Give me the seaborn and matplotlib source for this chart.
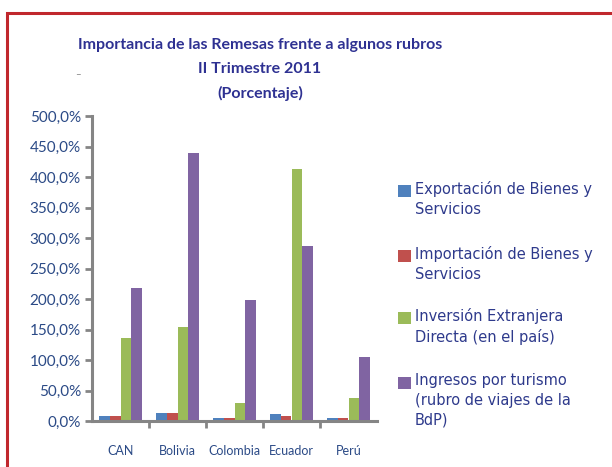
import matplotlib
matplotlib.use('Agg')
import matplotlib.pyplot as plt
import matplotlib.patches as mpatches
import seaborn as sns
import pandas as pd

# values (percent)
paises = ['CAN', 'Bolivia', 'Colombia', 'Ecuador', 'Perú']
exportacion = [8.0, 12.5, 5.5, 11.0, 5.5]
importacion = [8.0, 12.5, 5.5, 8.0, 5.5]
inversion = [136.5, 153.5, 30.0, 413.0, 37.5]
turismo = [218.0, 440.0, 198.0, 287.0, 104.5]

series = ['Exportación de Bienes y\nServicios',
          'Importación de Bienes y\nServicios',
          'Inversión Extranjera\nDirecta (en el país)',
          'Ingresos por turismo\n(rubro de viajes de la\nBdP)']
colores = ['#4F81BD', '#C0504D', '#9BBB59', '#8064A2']

df = pd.DataFrame({
    'pais': paises * 4,
    'rubro': [s for s in series for _ in paises],
    'valor': exportacion + importacion + inversion + turismo,
})

sns.set_style('white')
plt.rcParams['font.family'] = ['Lato', 'DejaVu Sans']

fig = plt.figure(figsize=(6.12, 4.67), dpi=100)
ax = fig.add_axes([92 / 612, 1 - 421 / 467, 285 / 612, 305 / 467])

sns.barplot(data=df, x='pais', y='valor', hue='rubro', palette=colores,
            width=0.74, saturation=1, linewidth=0, legend=False, ax=ax)

ax.set_ylim(0, 500)
ax.set_xlim(-0.5, 4.5)
ax.set_yticks(range(0, 501, 50))
ax.set_yticklabels([f'{v:.1f}%'.replace('.', ',') for v in range(0, 501, 50)])
ax.set_xlabel('')
ax.set_ylabel('')

txt_color = '#2B4A86'
ax.tick_params(axis='y', labelsize=11, labelcolor=txt_color, length=5,
               width=2, color='#858585', direction='out', left=True, pad=3)
ax.tick_params(axis='x', labelsize=9, labelcolor=txt_color, bottom=False, pad=14)
ax.set_xticks([0.5, 1.5, 2.5, 3.5], minor=True)
ax.tick_params(axis='x', which='minor', bottom=True, length=5, width=2,
               color='#858585', direction='out')

for side in ['top', 'right']:
    ax.spines[side].set_visible(False)
for side in ['left', 'bottom']:
    ax.spines[side].set_color('#858585')
    ax.spines[side].set_linewidth(2.2)

# title
title_color = '#2E3192'
for i, line in enumerate(['Importancia de las Remesas frente a algunos rubros',
                          'II Trimestre 2011', '(Porcentaje)']):
    fig.text(260 / 612, 1 - (45 + 24 * i) / 467, line, ha='center', va='center',
             fontsize=11.5, fontweight='bold', color=title_color)
fig.text(78 / 612, 1 - 75 / 467, '–', ha='center', va='center', fontsize=7,
         color='#808080')

# legend drawn by hand so the squares line up with the first line
legend_y = [189, 254, 316, 381]
for nombre, color, y in zip(series, colores, legend_y):
    fig.patches.append(mpatches.Rectangle((398 / 612, 1 - (y + 8) / 467),
                                          13 / 612, 12 / 467,
                                          transform=fig.transFigure,
                                          facecolor=color, edgecolor='none'))
    fig.text(415 / 612, 1 - (y - 8) / 467, nombre, ha='left', va='top',
             fontsize=10.5, color='#2E3A8C', linespacing=1.4,
             family=['DejaVu Sans'])

# red frame, cut off at the right and bottom edges
fig.patches.append(mpatches.Rectangle((7 / 612, -0.1), 1.2, 1 - 13 / 467 + 0.1,
                                      transform=fig.transFigure, fill=False,
                                      edgecolor='#C0272D', linewidth=2.2))

fig.savefig('out.png', dpi=100)
